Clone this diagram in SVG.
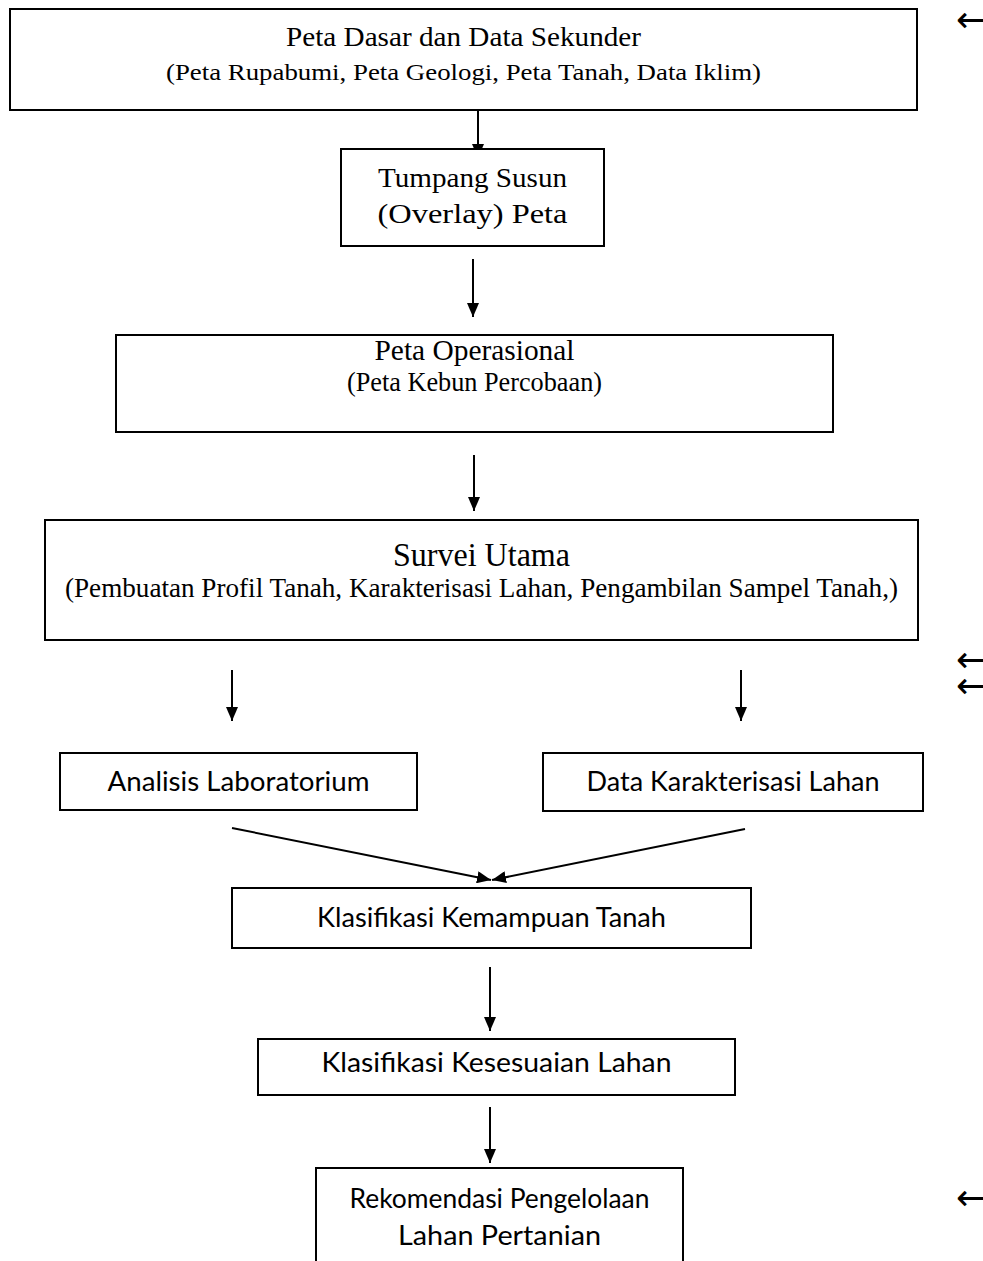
<svg xmlns="http://www.w3.org/2000/svg" width="983" height="1261" viewBox="0 0 983 1261">
<style>
.box{fill:#fff;stroke:#000;stroke-width:2}
.ser{font-family:"Liberation Serif","Times New Roman",serif;fill:#000;text-anchor:middle}
.san{font-family:Lato,"Open Sans",sans-serif;fill:#000;text-anchor:middle;font-size:27px}
.con{stroke:#000;stroke-width:2;fill:none;marker-end:url(#ah)}
.mark{font-family:"DejaVu Sans",sans-serif;font-size:36px;fill:#000}
</style>
<defs>
<marker id="ah" markerUnits="userSpaceOnUse" markerWidth="14" markerHeight="12" viewBox="0 0 14 12" refX="14" refY="6" orient="auto">
<path d="M0,0 L14,6 L0,12 Z" fill="#000"/>
</marker>
</defs>
<rect width="983" height="1261" fill="#fff"/>
<g id="connectors">
<line class="con" x1="478" y1="110" x2="478" y2="158"/>
<line class="con" x1="473" y1="259" x2="473" y2="317"/>
<line class="con" x1="474" y1="455" x2="474" y2="511"/>
<line class="con" x1="232" y1="670" x2="232" y2="721"/>
<line class="con" x1="741" y1="670" x2="741" y2="721"/>
<line class="con" x1="232" y1="828" x2="491" y2="880"/>
<line class="con" x1="745" y1="829" x2="492" y2="880"/>
<line class="con" x1="490" y1="967" x2="490" y2="1031"/>
<line class="con" x1="490" y1="1107" x2="490" y2="1163"/>
</g>
<g id="n1">
<rect class="box" x="10" y="9" width="907" height="101"/>
<text class="ser" x="463.5" y="46" font-size="28" textLength="355" lengthAdjust="spacingAndGlyphs">Peta Dasar dan Data Sekunder</text>
<text class="ser" x="463.5" y="80" font-size="24" textLength="595" lengthAdjust="spacingAndGlyphs">(Peta Rupabumi, Peta Geologi, Peta Tanah, Data Iklim)</text>
</g>
<g id="n2">
<rect class="box" x="341" y="149" width="263" height="97"/>
<text class="ser" x="472.5" y="187" font-size="28" textLength="189" lengthAdjust="spacingAndGlyphs">Tumpang Susun</text>
<text class="ser" x="472.5" y="223" font-size="28" textLength="190" lengthAdjust="spacingAndGlyphs">(Overlay) Peta</text>
</g>
<g id="n3">
<rect class="box" x="116" y="335" width="717" height="97"/>
<text class="ser" x="474.5" y="360" font-size="30" textLength="200" lengthAdjust="spacingAndGlyphs">Peta Operasional</text>
<text class="ser" x="474.5" y="391" font-size="28" textLength="255" lengthAdjust="spacingAndGlyphs">(Peta Kebun Percobaan)</text>
</g>
<g id="n4">
<rect class="box" x="45" y="520" width="873" height="120"/>
<text class="ser" x="481.5" y="566" font-size="34" textLength="177" lengthAdjust="spacingAndGlyphs">Survei Utama</text>
<text class="ser" x="481.5" y="597" font-size="28" textLength="833" lengthAdjust="spacingAndGlyphs">(Pembuatan Profil Tanah, Karakterisasi Lahan, Pengambilan Sampel Tanah,)</text>
</g>
<g id="n5">
<rect class="box" x="60" y="753" width="357" height="57"/>
<text class="san" x="238.5" y="791" textLength="262" lengthAdjust="spacingAndGlyphs">Analisis Laboratorium</text>
</g>
<g id="n6">
<rect class="box" x="543" y="753" width="380" height="58"/>
<text class="san" x="733" y="791" textLength="293" lengthAdjust="spacingAndGlyphs">Data Karakterisasi Lahan</text>
</g>
<g id="n7">
<rect class="box" x="232" y="888" width="519" height="60"/>
<text class="san" x="491.5" y="927" textLength="349" lengthAdjust="spacingAndGlyphs">Klasifikasi Kemampuan Tanah</text>
</g>
<g id="n8">
<rect class="box" x="258" y="1039" width="477" height="56"/>
<text class="san" x="496.5" y="1072" textLength="350" lengthAdjust="spacingAndGlyphs">Klasifikasi Kesesuaian Lahan</text>
</g>
<g id="n9">
<rect class="box" x="316" y="1168" width="367" height="100"/>
<text class="san" x="499.5" y="1208" textLength="300" lengthAdjust="spacingAndGlyphs">Rekomendasi Pengelolaan</text>
<text class="san" x="499.5" y="1245" textLength="203" lengthAdjust="spacingAndGlyphs">Lahan Pertanian</text>
</g>
<g id="marks">
<text class="mark" x="956" y="32">←</text>
<text class="mark" x="956" y="672">←</text>
<text class="mark" x="956" y="698">←</text>
<text class="mark" x="956" y="1210">←</text>
</g>
</svg>
